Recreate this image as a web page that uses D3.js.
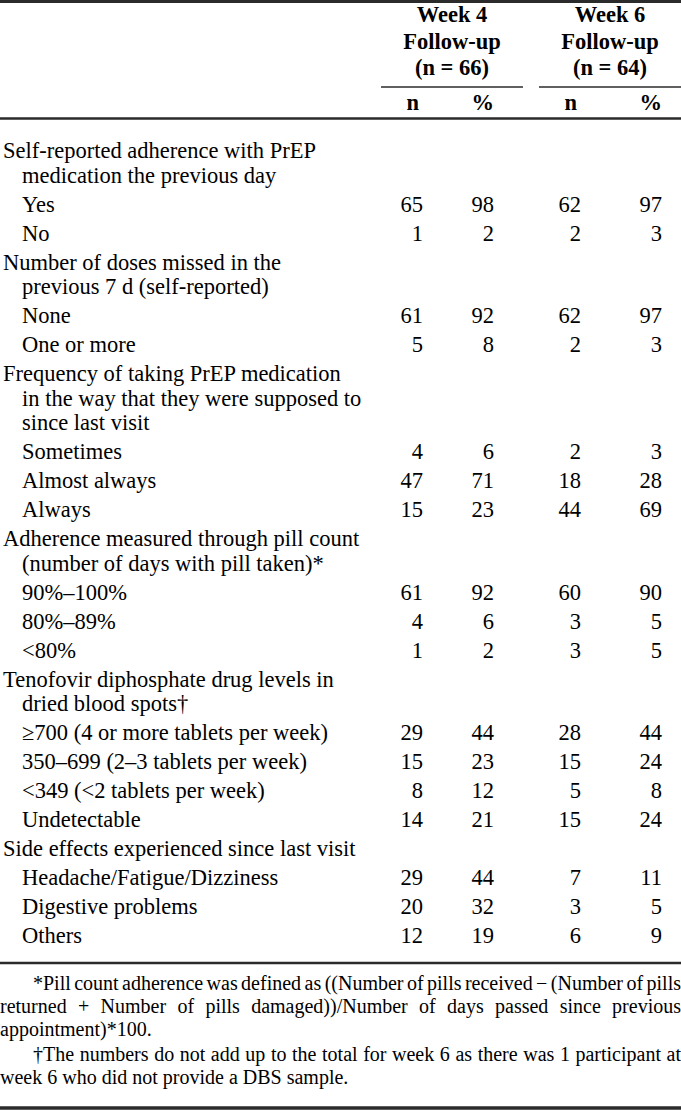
<!DOCTYPE html>
<html>
<head>
<meta charset="utf-8">
<script src="https://cdn.jsdelivr.net/npm/d3@7"></script>
<style>
  body { margin: 0; background: #fff; }
  svg text { font-family: "Liberation Serif", "Times New Roman", serif; fill: #000; }
</style>
</head>
<body>
<script>
// table content
const headerLines = [
    ['Week 4', 'Follow-up', '(n = 66)'],
    ['Week 6', 'Follow-up', '(n = 64)']
];
const columnLabels = ['n', '%', 'n', '%'];
const columnKeys = ['n4', 'p4', 'n6', 'p6'];

const groupTitles = [
    ['Self-reported adherence with PrEP', 'medication the previous day'],
    ['Number of doses missed in the', 'previous 7 d (self-reported)'],
    ['Frequency of taking PrEP medication', 'in the way that they were supposed to', 'since last visit'],
    ['Adherence measured through pill count', '(number of days with pill taken)*'],
    ['Tenofovir diphosphate drug levels in', 'dried blood spots\u2020'],
    ['Side effects experienced since last visit']
];
const rowLabels = [
    ['Yes', 'No'],
    ['None', 'One or more'],
    ['Sometimes', 'Almost always', 'Always'],
    ['90%\u2013100%', '80%\u201389%', '<80%'],
    ['\u2265700 (4 or more tablets per week)', '350\u2013699 (2\u20133 tablets per week)', '<349 (<2 tablets per week)', 'Undetectable'],
    ['Headache/Fatigue/Dizziness', 'Digestive problems', 'Others']
];
const week4N = [[65, 1], [61, 5], [4, 47, 15], [61, 4, 1], [29, 15, 8, 14], [29, 20, 12]];
const week4Pct = [[98, 2], [92, 8], [6, 71, 23], [92, 6, 2], [44, 23, 12, 21], [44, 32, 19]];
const week6N = [[62, 2], [62, 2], [2, 18, 44], [60, 3, 3], [28, 15, 5, 15], [7, 3, 6]];
const week6Pct = [[97, 3], [97, 3], [3, 28, 69], [90, 5, 5], [44, 24, 8, 24], [11, 5, 9]];

const footnotes = [
    ['*Pill count adherence was defined as ((Number of pills received \u2212 (Number of pills',
     'returned + Number of pills damaged))/Number of days passed since previous',
     'appointment)*100.'],
    ['\u2020The numbers do not add up to the total for week 6 as there was 1 participant at',
     'week 6 who did not provide a DBS sample.']
];

// layout
const width = 681, height = 1120;
const fontSize = 22.5, footSize = 20;
const wrapStep = 24.5, rowStep = 29, footStep = 23;
const labelX = 3, indentX = 22;

const svg = d3.select('body').append('svg')
    .attr('width', width)
    .attr('height', height);

const colX = d3.scaleOrdinal().domain(columnKeys).range([423, 494, 581, 662]);
const spanX = d3.scaleOrdinal().domain([0, 1]).range([[381, 523], [539, 681]]);

function rule(y, x1, x2, w) {
    svg.append('line')
        .attr('x1', x1).attr('x2', x2)
        .attr('y1', y).attr('y2', y)
        .attr('stroke', '#2b2b2b')
        .attr('stroke-width', w);
}

// header
rule(1.5, 0, width, 3);
headerLines.forEach((lines, i) => {
    const [a, b] = spanX(i);
    svg.append('g').selectAll('text')
        .data(lines)
        .enter()
        .append('text')
        .attr('x', (a + b) / 2)
        .attr('y', (d, j) => 22 + j * 26.5)
        .attr('text-anchor', 'middle')
        .attr('font-weight', 'bold')
        .attr('font-size', fontSize)
        .text(d => d);
    rule(87, a, b, 1.6);
});
svg.append('g').selectAll('text')
    .data(columnLabels)
    .enter()
    .append('text')
    .attr('x', (d, i) => colX(columnKeys[i]) - (d === 'n' ? 4 : 0))
    .attr('y', 110)
    .attr('text-anchor', 'end')
    .attr('font-weight', 'bold')
    .attr('font-size', fontSize)
    .text(d => d);
rule(118.5, 0, width, 2.5);

// body
const body = svg.append('g');
let y = 158;
groupTitles.forEach((title, g) => {
    title.forEach((t, j) => {
        body.append('text')
            .attr('x', j === 0 ? labelX : indentX)
            .attr('y', y)
            .attr('font-size', fontSize)
            .text(t);
        y += j < title.length - 1 ? wrapStep : rowStep;
    });
    rowLabels[g].forEach((lab, r) => {
        body.append('text')
            .attr('x', indentX)
            .attr('y', y)
            .attr('font-size', fontSize)
            .text(lab);
        const vals = [week4N[g][r], week4Pct[g][r], week6N[g][r], week6Pct[g][r]];
        body.append('g').selectAll('text')
            .data(vals)
            .enter()
            .append('text')
            .attr('x', (d, i) => colX(columnKeys[i]))
            .attr('y', y)
            .attr('text-anchor', 'end')
            .attr('font-size', fontSize)
            .text(d => d);
        y += rowStep;
    });
});
const bodyEnd = y - rowStep + 20;
rule(bodyEnd, 0, width, 2.5);

// footnotes, justified
let fy = bodyEnd + 27;
footnotes.forEach(par => {
    par.forEach((line, j) => {
        const x0 = j === 0 ? 33 : 0;
        const words = line.split(' ');
        const g = svg.append('g');
        const nodes = g.selectAll('text')
            .data(words)
            .enter()
            .append('text')
            .attr('y', fy)
            .attr('font-size', footSize)
            .text(d => d);
        const widths = nodes.nodes().map(n => n.getComputedTextLength());
        const total = d3.sum(widths);
        const last = j === par.length - 1;
        const gap = last ? footSize * 0.25 : (width - x0 - total) / (words.length - 1);
        let cx = x0;
        nodes.attr('x', (d, i) => {
            const px = cx;
            cx += widths[i] + gap;
            return px;
        });
        fy += footStep;
    });
    fy += 2;
});

rule(1108, 0, width, 3.5);
</script>
</body>
</html>
